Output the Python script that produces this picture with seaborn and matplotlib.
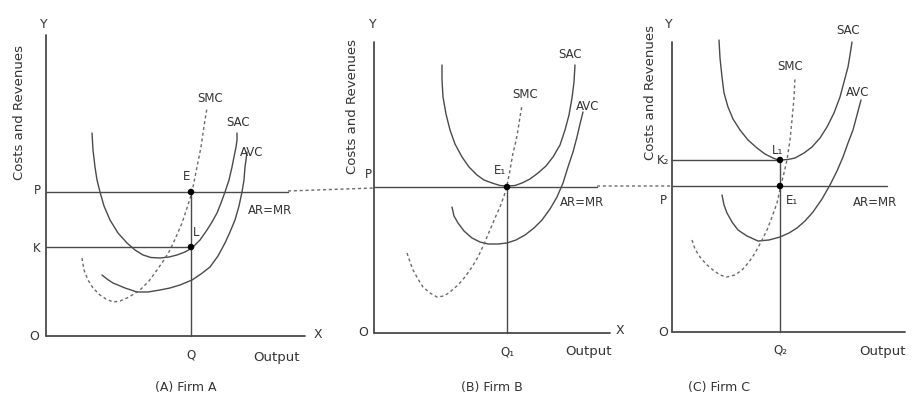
import matplotlib
matplotlib.use("Agg")
import matplotlib.pyplot as plt
import seaborn as sns
import pandas as pd

# ---------------- data (diagram coordinates) ----------------
# Panel A : Firm A
A_SAC_x = [92, 93, 95, 97, 100, 104, 110, 118, 127, 135, 143, 151, 160, 169, 177, 185,
           192, 200, 207, 212, 217, 221, 225, 229, 232, 234, 236, 237, 237]
A_SAC_y = [133, 150, 167, 180, 192, 206, 220, 233, 243, 250, 255, 257.5, 258, 257, 255, 252,
           248, 240, 230, 222, 213, 203, 192, 180, 167, 157, 147, 140, 133]
A_AVC_x = [102, 107, 113, 125, 137, 148, 160, 170, 180, 192, 201, 210, 218, 225, 230, 235,
           239, 242, 244, 245, 246, 247]
A_AVC_y = [275, 279, 283, 288, 292, 292, 290, 288, 285, 280, 274, 267, 256, 243, 232, 220,
           206, 192, 180, 167, 160, 152]
A_SMC_x = [82, 84, 88, 93, 100, 106, 113, 120, 127, 134, 140, 149, 157, 164, 170, 176,
           182, 187, 192, 195, 198, 201, 203, 205, 207]
A_SMC_y = [258, 270, 280, 288, 295, 299, 302, 301, 298, 294, 290, 281, 270, 260, 250, 237,
           223, 208, 192, 177, 162, 147, 133, 120, 108]

# Panel B : Firm B
B_SAC_x = [442, 442, 443, 446, 450, 455, 462, 469, 477, 484, 492, 500, 507, 515, 522, 530,
           538, 546, 553, 560, 565, 569, 572, 574, 575]
B_SAC_y = [65, 80, 97, 114, 130, 144, 157, 167, 175, 180, 183, 185.5, 186, 185.5, 183, 179,
           173, 166, 157, 145, 130, 115, 98, 82, 65]
B_AVC_x = [452, 454, 458, 464, 472, 480, 488, 498, 507, 516, 525, 534, 542, 550, 557, 563,
           568, 573, 577, 580, 583]
B_AVC_y = [207, 216, 223, 231, 238, 242, 244, 244, 243, 240, 235, 228, 220, 209, 197, 183,
           167, 152, 137, 124, 112]
B_SMC_x = [407, 410, 413, 418, 423, 430, 437, 444, 450, 458, 465, 472, 478, 484, 490, 495,
           500, 504, 507, 510, 513, 516, 518, 520, 522]
B_SMC_y = [253, 262, 270, 279, 287, 293, 297, 296, 292, 285, 277, 267, 257, 244, 230, 218,
           207, 196, 186, 170, 153, 141, 130, 117, 105]

# Panel C : Firm C
C_SAC_x = [719, 720, 722, 724, 728, 733, 740, 748, 757, 765, 773, 777, 781, 788, 795, 804,
           812, 820, 827, 834, 840, 844, 848, 850, 852]
C_SAC_y = [40, 58, 77, 93, 107, 119, 130, 140, 148, 154, 158, 159.5, 160, 159.5, 158, 153,
           147, 138, 127, 113, 97, 82, 67, 55, 42]
C_AVC_x = [722, 724, 727, 732, 738, 747, 758, 769, 780, 789, 797, 805, 813, 822, 830, 837,
           843, 848, 853, 857, 861]
C_AVC_y = [195, 205, 213, 222, 230, 236, 241, 240, 237, 233, 228, 221, 212, 199, 185, 171,
           157, 143, 130, 115, 100]
C_SMC_x = [692, 695, 700, 706, 713, 720, 727, 735, 742, 749, 755, 761, 767, 772, 777, 779,
           781, 784, 787, 790, 792, 794, 795]
C_SMC_y = [240, 249, 257, 264, 270, 275, 277, 275, 270, 262, 253, 242, 230, 217, 203, 194,
           185, 173, 160, 140, 120, 98, 77]

# axes of each panel: origin x, origin y, top of Y axis, end of X axis
PANEL_ORIGIN_X = [46, 374, 672]
PANEL_ORIGIN_Y = [336, 333, 332]
PANEL_Y_TOP = [35, 42, 42]
PANEL_X_END = [305, 610, 905]

# price / cost levels and outputs
A_P, A_K, A_Q, A_P_END = 192, 247, 191, 288
B_P, B_Q, B_P_END = 187, 507, 597
C_P, C_K2, C_Q, C_P_END = 186, 160, 780, 887
# dotted link of the market price across panels
LINK_X = [A_P_END, 374, None, B_P_END, 672]
LINK_Y = [191, 188, None, 186, 186]

# equilibrium points
PTS_X = [A_Q, A_Q, B_Q, C_Q, C_Q]
PTS_Y = [A_P, A_K, B_P, C_K2, C_P]

CAPTIONS = ["(A) Firm A", "(B) Firm B", "(C) Firm C"]

# ---------------- drawing ----------------
sns.set_theme(style="white")
plt.rcParams["font.family"] = ["DejaVu Sans"]

W, H = 914, 398
fig = plt.figure(figsize=(W / 100, H / 100), dpi=100)
ax = fig.add_axes([0, 0, 1, 1])
ax.set_xlim(0, W)
ax.set_ylim(H, 0)
ax.axis("off")

LC = "#4a4a4a"
DC = "#6a6a6a"
TC = "#333333"
LW = 1.0
DASH = (0, (2.2, 2.0))


def curve(xs, ys, dashed=False):
    df = pd.DataFrame({"x": xs, "y": ys})
    sns.lineplot(data=df, x="x", y="y", sort=False, estimator=None, ax=ax,
                 color=(DC if dashed else LC), lw=LW,
                 linestyle=(DASH if dashed else "-"))


for sx, sy, vx, vy, mx, my in [
    (A_SAC_x, A_SAC_y, A_AVC_x, A_AVC_y, A_SMC_x, A_SMC_y),
    (B_SAC_x, B_SAC_y, B_AVC_x, B_AVC_y, B_SMC_x, B_SMC_y),
    (C_SAC_x, C_SAC_y, C_AVC_x, C_AVC_y, C_SMC_x, C_SMC_y),
]:
    curve(sx, sy)
    curve(vx, vy)
    curve(mx, my, dashed=True)
ax.set_xlabel("")
ax.set_ylabel("")

# axes of the panels
for ox, oy, yt, xe in zip(PANEL_ORIGIN_X, PANEL_ORIGIN_Y, PANEL_Y_TOP, PANEL_X_END):
    ax.plot([ox, ox], [yt, oy], color=LC, lw=1.3)
    ax.plot([ox, xe], [oy, oy], color=LC, lw=1.3)

# horizontal & vertical guide lines
ax.plot([PANEL_ORIGIN_X[0], A_P_END], [A_P, A_P], color=LC, lw=LW)
ax.plot([PANEL_ORIGIN_X[0], A_Q], [A_K, A_K], color=LC, lw=LW)
ax.plot([A_Q, A_Q], [A_P, PANEL_ORIGIN_Y[0]], color=LC, lw=LW)

ax.plot([PANEL_ORIGIN_X[1], B_P_END], [B_P, B_P], color=LC, lw=LW)
ax.plot([B_Q, B_Q], [B_P, PANEL_ORIGIN_Y[1]], color=LC, lw=LW)

ax.plot([PANEL_ORIGIN_X[2], C_P_END], [C_P, C_P], color=LC, lw=LW)
ax.plot([PANEL_ORIGIN_X[2], C_Q], [C_K2, C_K2], color=LC, lw=LW)
ax.plot([C_Q, C_Q], [C_K2, PANEL_ORIGIN_Y[2]], color=LC, lw=LW)

ax.plot(LINK_X, LINK_Y, color=DC, lw=LW, linestyle=DASH)

sns.scatterplot(x=PTS_X, y=PTS_Y, ax=ax, color="black", s=22, edgecolor="none", zorder=5)


def t(x, y, s, size=9, rot=0):
    ax.text(x, y, s, ha="center", va="center", fontsize=size, color=TC, rotation=rot)


# Panel A texts
t(20, 112, "Costs and Revenues", 9.5, 90)
t(44, 24, "Y"); t(318, 334, "X"); t(34, 337, "O")
t(37, 190, "P", 8.5); t(37, 248, "K", 8.5)
t(191, 355, "Q", 8.5); t(277, 358, "Output", 9.5)
t(210, 98, "SMC", 8.5); t(238, 123, "SAC", 8.5); t(252, 153, "AVC", 8.5)
t(270, 210, "AR=MR", 8.5); t(187, 176, "E", 8.5); t(196, 232, "L", 8.5)
t(186, 388, CAPTIONS[0], 9)

# Panel B texts
t(353, 106, "Costs and Revenues", 9.5, 90)
t(373, 25, "Y"); t(620, 331, "X"); t(363, 333, "O")
t(368, 175, "P", 8.5)
t(507, 352, "Q₁", 8.5); t(588, 352, "Output", 9.5)
t(570, 55, "SAC", 8.5); t(525, 95, "SMC", 8.5); t(588, 107, "AVC", 8.5)
t(582, 203, "AR=MR", 8.5); t(500, 171, "E₁", 8.5)
t(492, 388, CAPTIONS[1], 9)

# Panel C texts
t(650, 92, "Costs and Revenues", 9.5, 90)
t(669, 25, "Y"); t(663, 332, "O")
t(663, 160, "K₂", 8.5); t(663, 200, "P", 8.5)
t(780, 350, "Q₂", 8.5); t(883, 352, "Output", 9.5)
t(848, 30, "SAC", 8.5); t(790, 67, "SMC", 8.5); t(858, 92, "AVC", 8.5)
t(875, 203, "AR=MR", 8.5); t(778, 151, "L₁", 8.5); t(792, 200, "E₁", 8.5)
t(719, 388, CAPTIONS[2], 9)

fig.savefig("out.png", dpi=100, facecolor="white")
